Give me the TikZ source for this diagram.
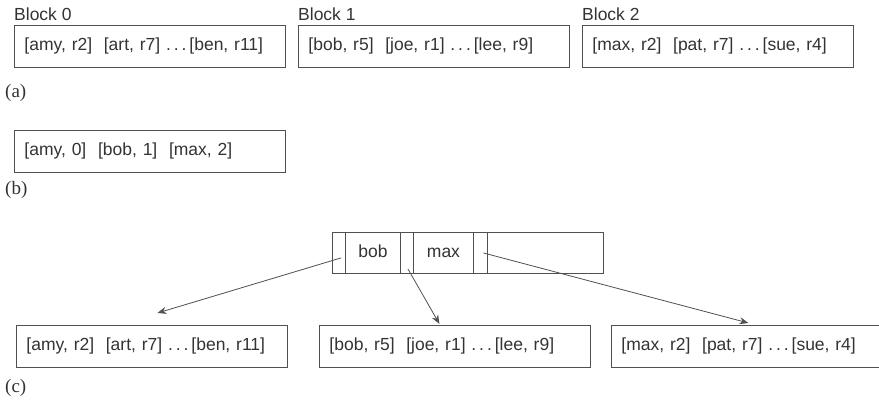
\documentclass[tikz,border=0pt]{standalone}
\usepackage{fontspec}
\setmainfont{Liberation Serif}
\setsansfont{Liberation Sans}
\usetikzlibrary{calc,arrows.meta}
\definecolor{ln}{HTML}{505050}
\definecolor{tx}{HTML}{333333}
\begin{document}
\begin{tikzpicture}[x=1pt,y=-1pt,
  blk/.style={draw=ln,line width=0.9pt,anchor=north west,text width=251pt,inner xsep=10pt,
    inner ysep=0pt,minimum height=42pt,align=left,font=\sffamily\fontsize{17.5}{19}\selectfont,text=tx},
  cell/.style={draw=ln,line width=0.9pt,anchor=north west,inner sep=0pt,minimum height=41pt,
    text height=12pt,text depth=3pt,font=\sffamily\fontsize{17.5}{19}\selectfont,text=tx},
  ttl/.style={anchor=west,inner sep=0pt,font=\sffamily\fontsize{17.5}{19}\selectfont,text=tx},
  lab/.style={anchor=west,inner sep=0pt,font=\fontsize{19}{21}\selectfont,text=tx},
  arr/.style={draw=ln,line width=0.8pt,-{Stealth[length=9pt,width=7pt]}}]
\useasboundingbox (0,0) rectangle (879,401);
% (a)
\node[ttl] (t0) at (14,14) {Block 0};
\node[ttl] (t1) at (298,14) {Block 1};
\node[ttl] (t2) at (582,14) {Block 2};
\node[blk] (a0) at (14,25) {[amy, r2]\ \ [art, r7] .\,.\,.\,[ben, r11]};
\node[blk] (a1) at (298,25) {[bob, r5]\ \ [joe, r1] .\,.\,.\,[lee, r9]};
\node[blk] (a2) at (582,25) {[max, r2]\ \ [pat, r7] .\,.\,.\,[sue, r4]};
\node[lab] (la) at (5,93) {(a)};
% (b)
\node[blk] (b0) at (14,130) {[amy, 0]\ \ [bob, 1]\ \ [max, 2]};
\node[lab] (lb) at (5,190) {(b)};
% (c) index block
\node[cell,minimum width=13pt] (p0) at (332,232) {};
\node[cell,minimum width=55pt] (k1) at (345,232) {bob};
\node[cell,minimum width=13pt] (p1) at (400,232) {};
\node[cell,minimum width=60pt] (k2) at (413,232) {max};
\node[cell,minimum width=14pt] (p2) at (473,232) {};
\node[cell,minimum width=116pt] (rest) at (487,232) {};
% (c) data blocks
\node[blk] (c0) at (16,325) {[amy, r2]\ \ [art, r7] .\,.\,.\,[ben, r11]};
\node[blk] (c1) at (319,325) {[bob, r5]\ \ [joe, r1] .\,.\,.\,[lee, r9]};
\node[blk] (c2) at (611,325) {[max, r2]\ \ [pat, r7] .\,.\,.\,[sue, r4]};
\node[lab] (lc) at (5,388) {(c)};
% pointers
\coordinate (s0) at ($(p0.center)+(2,5)$);
\coordinate (s1) at ($(p1.center)+(1,16)$);
\coordinate (s2) at ($(p2.center)+(3,0)$);
\coordinate (e0) at ($(c0.north)+(5.5,-12)$);
\coordinate (e1) at ($(c1.north)+(-15.5,-1)$);
\coordinate (e2) at ($(c2.north)+(1.5,-2)$);
\draw[arr] (s0) -- (e0);
\draw[arr] (s1) -- (e1);
\draw[arr] (s2) -- (e2);
\end{tikzpicture}
\end{document}
